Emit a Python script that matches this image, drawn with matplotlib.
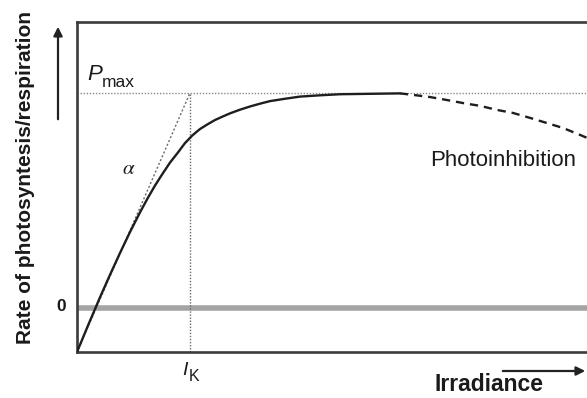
import matplotlib
matplotlib.use("Agg")
import matplotlib.pyplot as plt
from matplotlib.patches import FancyArrowPatch

plt.rcParams['font.family'] = ['Liberation Sans', 'DejaVu Sans']

# Light-response curve (irradiance in units of I_K, rate in units of P_max)
irradiance = [0.000, 0.102, 0.204, 0.292, 0.381, 0.469, 0.558, 0.624,
              0.690, 0.757, 0.823, 0.889, 0.956, 1.022, 1.088, 1.155,
              1.221, 1.288, 1.354, 1.442, 1.531, 1.619, 1.708, 1.841,
              1.973, 2.150, 2.327, 2.593, 2.858]
rate = [-0.205, -0.076, 0.050, 0.154, 0.256, 0.353, 0.445, 0.509,
        0.569, 0.624, 0.676, 0.720, 0.767, 0.803, 0.832, 0.854,
        0.874, 0.890, 0.905, 0.922, 0.937, 0.950, 0.962, 0.973,
        0.983, 0.989, 0.994, 0.996, 0.998]

# Decline at high irradiance (photoinhibition)
inhib_irradiance = [2.858, 2.973, 3.124, 3.274, 3.416, 3.566, 3.717, 3.858,
                    4.009, 4.159, 4.301, 4.451, 4.558]
inhib_rate = [0.998, 0.991, 0.981, 0.967, 0.953, 0.940, 0.921, 0.907,
              0.884, 0.860, 0.837, 0.805, 0.781]

p_max = 1.0
i_k = 1.0
dark_resp = -0.205
x_max = 4.6
y_top = 1.33

W, H = 587, 398
fig = plt.figure(figsize=(W / 100, H / 100), dpi=100)
ax = fig.add_axes([77 / W, 1 - 352 / H, (x_max * 113) / W, 330 / H])
ax.set_xlim(0, x_max)
ax.set_ylim(dark_resp, y_top)

spine_col = '#3c3c3c'
for side in ('left', 'top', 'bottom'):
    ax.spines[side].set_color(spine_col)
    ax.spines[side].set_linewidth(1.9)
ax.spines['right'].set_visible(False)
ax.set_xticks([])
ax.set_yticks([])

# zero-rate line
ax.axhline(0, color='#a4a4a4', lw=4.0, zorder=1)

# P_max level and I_K marker
ax.hlines(p_max, 0, x_max, colors='#8a8a8a', lw=1.0,
          linestyles=(0, (1, 1.2)), zorder=2)
ax.vlines(i_k, dark_resp, p_max, colors='#6a6a6a', lw=1.0,
          linestyles=(0, (1, 1.2)), zorder=2)

# initial slope alpha
ax.plot([0, i_k], [dark_resp, p_max], color='#6a6a6a', lw=1.0,
        linestyle=(0, (1.5, 1.5)), zorder=2)

# P-I curve
ax.plot(irradiance, rate, color='#1e1e1e', lw=1.7, zorder=3,
        solid_capstyle='round', solid_joinstyle='round')
ax.plot(inhib_irradiance, inhib_rate, color='#1e1e1e', lw=1.7, zorder=3,
        linestyle=(0, (3.5, 2.5)))

txt = '#1a1a1a'


def fx(px):
    return px / W


def fy(py):
    return 1 - py / H


fig.text(fx(26), fy(178), 'Rate of photosyntesis/respiration', rotation=90,
         ha='center', va='center', fontsize=15, fontweight='bold', color=txt)
fig.text(fx(61.5), fy(306.5), '0', ha='center', va='center', fontsize=12.5,
         fontweight='bold', color=txt)

fig.text(fx(87), fy(80), 'P', ha='left', va='baseline', fontsize=16,
         style='italic', color=txt)
fig.text(fx(102), fy(87), 'max', ha='left', va='baseline', fontsize=12.5,
         color=txt)

fig.text(fx(129), fy(169), r'$\alpha$', ha='center', va='center',
         fontsize=15, color=txt, math_fontfamily='stix')

fig.text(fx(182), fy(375), 'I', ha='left', va='baseline', fontsize=14,
         style='italic', color=txt)
fig.text(fx(188.5), fy(381), 'K', ha='left', va='baseline', fontsize=11.5,
         color=txt)

fig.text(fx(430), fy(166), 'Photoinhibition', ha='left', va='baseline',
         fontsize=16, color=txt)
fig.text(fx(435), fy(391), 'Irradiance', ha='left', va='baseline',
         fontsize=16.5, fontweight='bold', color=txt)

# axis direction arrows
fig.add_artist(FancyArrowPatch(
    (fx(58), fy(122)), (fx(58), fy(24)), transform=fig.transFigure,
    arrowstyle='-|>', mutation_scale=13, lw=1.6, color='#222222'))
fig.add_artist(FancyArrowPatch(
    (fx(500), fy(371)), (fx(588), fy(371)), transform=fig.transFigure,
    arrowstyle='-|>', mutation_scale=13, lw=1.6, color='#222222'))

fig.savefig('out.png', dpi=100)
